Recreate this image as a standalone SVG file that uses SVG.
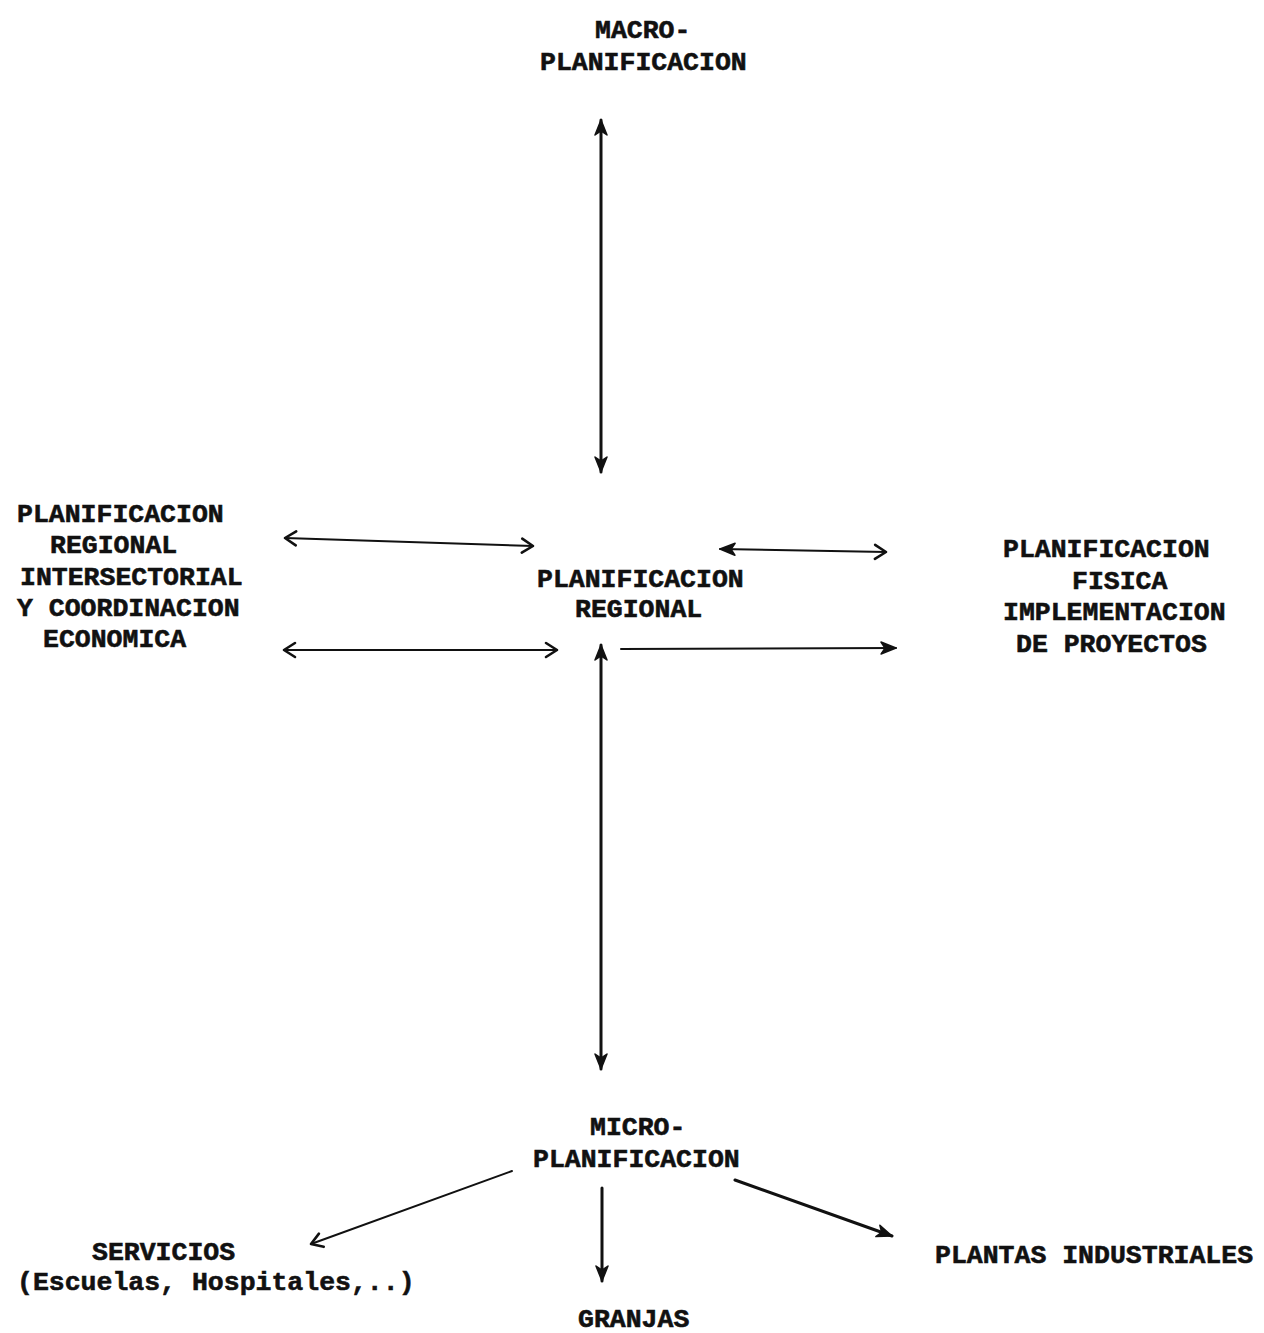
<svg xmlns="http://www.w3.org/2000/svg" width="1264" height="1333" viewBox="0 0 1264 1333">
<style>
text{font-family:"Liberation Mono","Courier New",monospace;font-weight:bold;font-size:26.5px;fill:#111;stroke:#111;stroke-width:0.6px}
.c{fill:none;stroke:#111;stroke-width:2;stroke-linecap:round}
.v{stroke-width:3}
</style>
<defs>
<marker id="open" markerUnits="userSpaceOnUse" markerWidth="30" markerHeight="30" viewBox="-15 -15 30 30" refX="0" refY="0" orient="auto-start-reverse">
<path d="M-11,-7 L0,0 L-11,7" fill="none" stroke="#111" stroke-width="2.6" stroke-linecap="round" stroke-linejoin="round"/>
</marker>
<marker id="solid" markerUnits="userSpaceOnUse" markerWidth="30" markerHeight="30" viewBox="-20 -15 30 30" refX="0" refY="0" orient="auto-start-reverse">
<path d="M-15,-6 L0,0 L-15,6 L-11,0 Z" fill="#111" stroke="#111" stroke-width="1.5" stroke-linejoin="round"/>
</marker>
</defs>
<rect width="1264" height="1333" fill="#fff"/>

<g id="macro">
<text x="595" y="38">MACRO-</text>
<text x="540" y="70">PLANIFICACION</text>
</g>
<g id="regional">
<text x="537" y="587">PLANIFICACION</text>
<text x="575" y="617">REGIONAL</text>
</g>
<g id="intersectorial">
<text x="17" y="522">PLANIFICACION</text>
<text x="50" y="553">REGIONAL</text>
<text x="20" y="585">INTERSECTORIAL</text>
<text x="17" y="616">Y COORDINACION</text>
<text x="43" y="647">ECONOMICA</text>
</g>
<g id="fisica">
<text x="1003" y="557">PLANIFICACION</text>
<text x="1072" y="589">FISICA</text>
<text x="1003" y="620">IMPLEMENTACION</text>
<text x="1016" y="652">DE PROYECTOS</text>
</g>
<g id="micro">
<text x="590" y="1135">MICRO-</text>
<text x="533" y="1167">PLANIFICACION</text>
</g>
<g id="servicios">
<text x="92" y="1260">SERVICIOS</text>
<text x="17" y="1290">(Escuelas, Hospitales,..)</text>
</g>
<g id="granjas">
<text x="578" y="1327">GRANJAS</text>
</g>
<g id="plantas">
<text x="935" y="1263">PLANTAS INDUSTRIALES</text>
</g>

<g id="connectors">
<line class="c v" x1="601" y1="120" x2="601" y2="472" marker-start="url(#solid)" marker-end="url(#solid)"/>
<line class="c v" x1="601" y1="645" x2="601" y2="1069" marker-start="url(#solid)" marker-end="url(#solid)"/>
<path class="c" d="M285,538 L533,546" marker-start="url(#open)" marker-end="url(#open)"/>
<path class="c" d="M284,650 L557,650" marker-start="url(#open)" marker-end="url(#open)"/>
<path class="c" d="M720,549 L886,552" marker-start="url(#solid)" marker-end="url(#open)"/>
<path class="c" d="M621,649 L896,648" marker-end="url(#solid)"/>
<path class="c" d="M512,1171 L311,1244" marker-end="url(#open)"/>
<line class="c v" x1="602" y1="1188" x2="602" y2="1281" marker-end="url(#solid)"/>
<path class="c v" d="M735,1180 L892,1236" marker-end="url(#solid)"/>
</g>
</svg>
